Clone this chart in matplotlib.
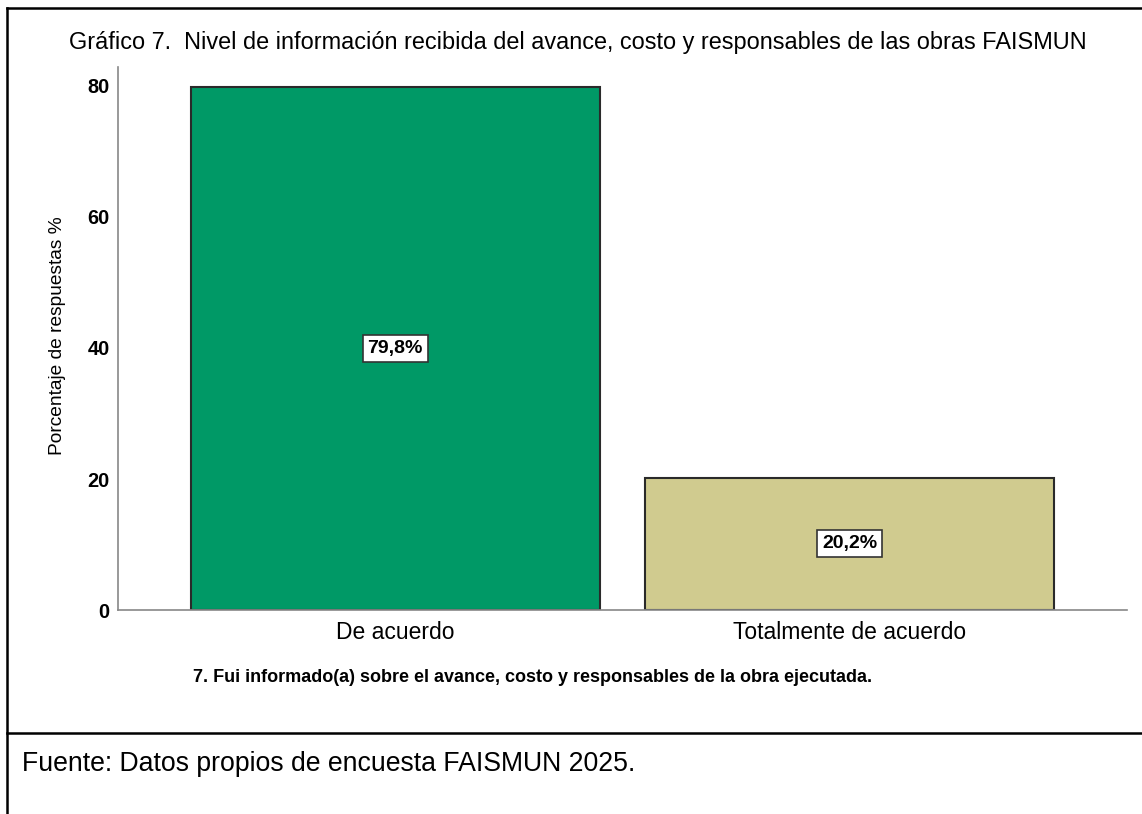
import matplotlib
matplotlib.use("Agg")
import matplotlib.pyplot as plt
from matplotlib.lines import Line2D

categories = ["De acuerdo", "Totalmente de acuerdo"]
percentages = [79.8, 20.2]
value_labels = ["79,8%", "20,2%"]
bar_colors = ["#009966", "#D0CB8F"]
y_ticks = [0, 20, 40, 60, 80]

plt.rcParams['font.family'] = ['Liberation Sans', 'DejaVu Sans']

fig = plt.figure(figsize=(11.42, 8.14), dpi=100)
ax = fig.add_axes([0.1033, 0.2506, 0.8836, 0.6671])

x = list(range(len(categories)))
bars = ax.bar(x, percentages, width=0.9, color=bar_colors, edgecolor="#2a2a2a", linewidth=1.5)

for b, lab in zip(bars, value_labels):
    ax.text(b.get_x() + b.get_width() / 2, b.get_height() / 2, lab,
            ha="center", va="center", fontsize=14, fontweight="bold",
            bbox=dict(boxstyle="square,pad=0.25", facecolor="white", edgecolor="#333333", linewidth=1.2))

ax.set_xlim(-0.61, 1.61)
ax.set_ylim(0, 82.9)
ax.set_yticks(y_ticks)
ax.set_xticks(x)
ax.set_xticklabels(categories, fontsize=16.5)
ax.tick_params(axis="both", length=0)
ax.tick_params(axis="y", pad=6)
ax.tick_params(axis="x", pad=8)
for t in ax.get_yticklabels():
    t.set_fontweight("bold")
    t.set_fontsize(14.4)

for s in ["top", "right"]:
    ax.spines[s].set_visible(False)
for s in ["left", "bottom"]:
    ax.spines[s].set_color("#888888")
    ax.spines[s].set_linewidth(1.2)

ax.set_ylabel("Porcentaje de respuestas %", fontsize=13.8, va="center")
ax.yaxis.set_label_coords(-0.0595, 0.506)
ax.set_xlabel("7. Fui informado(a) sobre el avance, costo y responsables de la obra ejecutada.",
              fontsize=13, fontweight="bold", va="center")
ax.xaxis.set_label_coords(0.411, -0.1234)

fig.text(578 / 1142, 1 - 42 / 814, "Gráfico 7.  Nivel de información recibida del avance, costo y responsables de las obras FAISMUN",
         ha="center", va="center", fontsize=16.9)
fig.text(22 / 1142, 1 - 764 / 814, "Fuente: Datos propios de encuesta FAISMUN 2025.",
         ha="left", va="center", fontsize=19.2)

# frame lines around the figure block
fig.add_artist(Line2D([7 / 1142, 1.0], [1 - 8 / 814, 1 - 8 / 814], color="black", linewidth=1.8))
fig.add_artist(Line2D([7 / 1142, 7 / 1142], [0, 1 - 8 / 814], color="black", linewidth=1.8))
fig.add_artist(Line2D([7 / 1142, 1.0], [1 - 733 / 814, 1 - 733 / 814], color="black", linewidth=1.8))

fig.savefig("out.png", dpi=100)
